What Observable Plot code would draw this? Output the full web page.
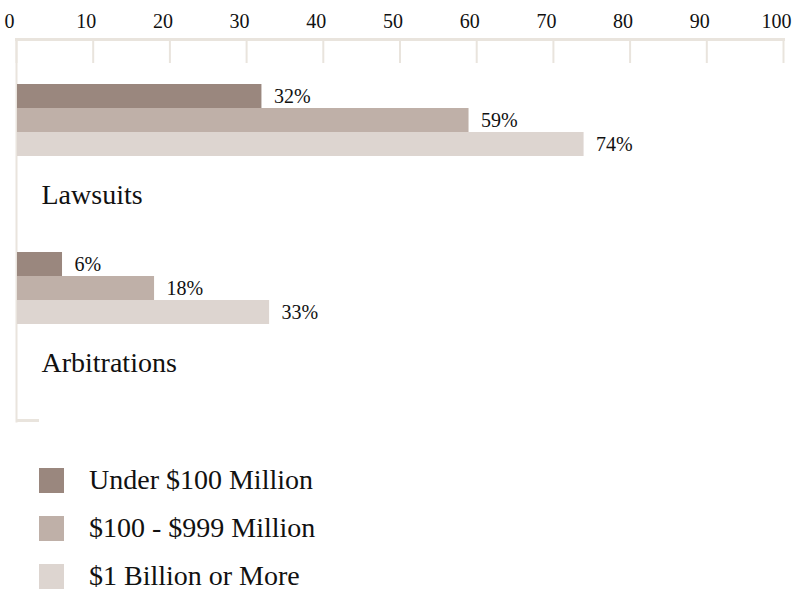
<!DOCTYPE html>
<html><head><meta charset="utf-8">
<script src="https://cdn.jsdelivr.net/npm/d3@7"></script>
<script src="https://cdn.jsdelivr.net/npm/@observablehq/plot@0.6"></script>
<style>
body{margin:0;background:#fff;font-family:"Liberation Serif",serif;}
#chart svg{display:block;}
#legend{margin-top:26px;}
.row{display:flex;align-items:center;height:48px;margin-left:39px;}
.sw{width:25px;height:25px;margin-right:25px;}
.lab{font-size:28px;color:#111;line-height:48px;}
</style></head><body><div id="chart"></div><div id="legend"></div>
<script>
const categories = ["Lawsuits", "Arbitrations"];
const series = ["Under $100 Million", "$100 - $999 Million", "$1 Billion or More"];
const lawsuits = [32, 59, 74];
const arbitrations = [6, 18, 33];
const xTicks = [0, 10, 20, 30, 40, 50, 60, 70, 80, 90, 100];
const colors = ["#9a877e", "#bfb0a8", "#ddd5d0"];
const axisColor = "#e9e4dd";
const font = "Liberation Serif";

const valuesByCat = {Lawsuits: lawsuits, Arbitrations: arbitrations};
const slotsPerGroup = 7;
const data = categories.flatMap(c => series.map((s, i) => ({category: c, series: s, value: valuesByCat[c][i], key: `${c}|${i}`})));
const yDomain = categories.flatMap(c => d3.range(slotsPerGroup).map(i => `${c}|${i}`));
const labelRows = categories.map(c => ({category: c, key: `${c}|4`}));
const lastKey = yDomain[yDomain.length - 1];

const chart = Plot.plot({
  width: 792,
  height: 430,
  marginTop: 39,
  marginLeft: 16,
  marginRight: 9,
  marginBottom: 9,
  style: {fontFamily: font, background: "#fff", color: "#111"},
  x: {domain: [0, 100], axis: null},
  y: {type: "band", domain: yDomain, padding: 0, axis: null, insetTop: 45, insetBottom: 1},
  color: {domain: series, range: colors},
  marks: [
    Plot.axisX({anchor: "top", ticks: xTicks, tickSize: -23, tickFormat: () => "", stroke: axisColor, strokeWidth: 2, label: null}),
    Plot.axisX({anchor: "top", ticks: xTicks, tickSize: 0, tickPadding: 12, dx: -7, fontSize: 20, fill: "#111", label: null}),
    Plot.frame({anchor: "top", stroke: axisColor, strokeWidth: 3}),
    Plot.frame({anchor: "left", stroke: axisColor, strokeWidth: 2}),
    Plot.ruleY([lastKey], {y: d => d, x1: 0, x2: 3, dy: 12, stroke: axisColor, strokeWidth: 3}),
    Plot.barX(data, {x: "value", y: "key", fill: "series", insetLeft: 1}),
    Plot.text(data, {x: "value", y: "key", text: d => `${d.value}%`, dx: 12, textAnchor: "start", fontSize: 20, fill: "#111"}),
    Plot.text(labelRows, {x: 0, y: "key", text: "category", dx: 25, dy: 3, textAnchor: "start", fontSize: 28, fill: "#111"})
  ]
});
document.getElementById("chart").append(chart);

const legend = d3.select("#legend");
series.forEach((s, i) => {
  const row = legend.append("div").attr("class", "row");
  row.append("div").attr("class", "sw").style("background", colors[i]);
  row.append("div").attr("class", "lab").text(s);
});
</script></body></html>
